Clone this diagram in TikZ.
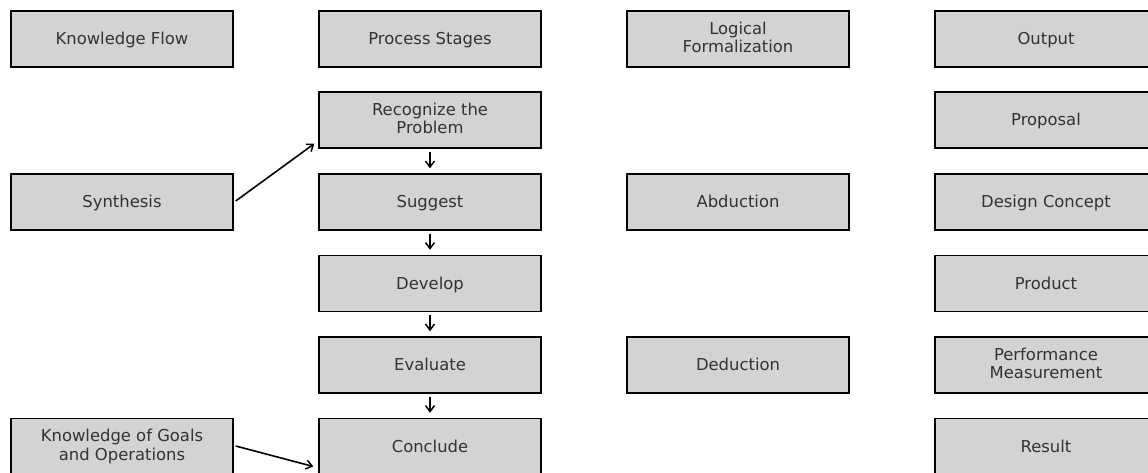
\documentclass[tikz,border=0pt]{standalone}
\usepackage{fontspec}
\setmainfont{DejaVu Sans}
\usetikzlibrary{arrows.meta,calc}
\definecolor{boxfill}{HTML}{D3D3D3}
\definecolor{txt}{HTML}{333333}
\begin{document}
\begin{tikzpicture}[x=1pt,y=-1pt,
  box/.style={draw=black,line width=1.4pt,fill=boxfill,minimum width=222pt,minimum height=56pt,
    inner sep=0pt,align=center,text=txt,font=\fontsize{16.4}{18.5}\selectfont,
    execute at begin node={\rule{0pt}{14.6pt}},execute at end node={\vphantom{g}}},
  conn/.style={line width=1.6pt,-{Straight Barb[length=6pt,width=9pt,line width=1.5pt]}}]
\useasboundingbox (0,0) rectangle (1148,473);
\clip (0,0) rectangle (1148,473);
% column centres 122, 430, 738, 1046 ; row centres 39,120,202,283.5,365,446
\node[box] (kf) at (122,39) {Knowledge Flow};
\node[box] (ps) at (430,39) {Process Stages};
\node[box] (lf) at (738,39) {Logical\\Formalization};
\node[box] (out) at (1046,39) {Output};

\node[box] (rec) at (430,120) {Recognize the\\Problem};
\node[box] (prop) at (1046,120) {Proposal};

\node[box] (syn) at (122,202) {Synthesis};
\node[box] (sug) at (430,202) {Suggest};
\node[box] (abd) at (738,202) {Abduction};
\node[box] (dc) at (1046,202) {Design Concept};

\node[box] (dev) at (430,283.5) {Develop};
\node[box] (prod) at (1046,283.5) {Product};

\node[box] (eva) at (430,365) {Evaluate};
\node[box] (ded) at (738,365) {Deduction};
\node[box] (pm) at (1046,365) {Performance\\Measurement};

\node[box] (kg) at (122,446.5) {Knowledge of Goals\\and Operations};
\node[box] (con) at (430,446.5) {Conclude};
\node[box] (res) at (1046,446.5) {Result};

\draw[conn,shorten <=3pt,shorten >=5pt] (rec.south) -- (sug.north);
\draw[conn,shorten <=3pt,shorten >=5pt] (sug.south) -- (dev.north);
\draw[conn,shorten <=3pt,shorten >=5pt] (dev.south) -- (eva.north);
\draw[conn,shorten <=3pt,shorten >=5pt] (eva.south) -- (con.north);

\draw[conn] ($(syn.east)+(2,-1)$) -- ($(rec.south west)+(-4,-5)$);
\draw[conn] ($(kg.east)+(2,-0.5)$) -- ($(con.west)+(-5,20)$);
\end{tikzpicture}
\end{document}
